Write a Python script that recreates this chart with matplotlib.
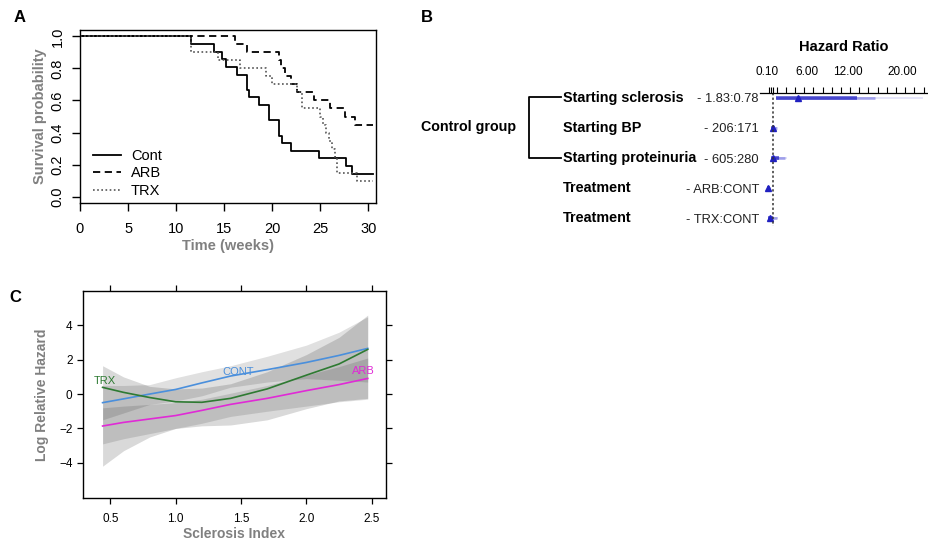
import numpy as np
import matplotlib
matplotlib.use("Agg")
import matplotlib.pyplot as plt
from matplotlib.lines import Line2D
from matplotlib.transforms import blended_transform_factory

plt.rcParams['font.family'] = ['Liberation Sans', 'DejaVu Sans']

# ---- panel A: Kaplan-Meier curves ----
cont_t = [0, 11.6, 13.9, 14.8, 15.2, 16.3, 17.4, 17.6, 18.6, 19.7, 20.7, 21.0, 22.0, 24.9, 27.7, 28.3, 30.5]
cont_s = [1.0, 0.952, 0.905, 0.857, 0.810, 0.762, 0.667, 0.619, 0.571, 0.476, 0.381, 0.333, 0.286, 0.238, 0.190, 0.143, 0.143]
arb_t = [0, 16.1, 17.4, 20.7, 20.9, 21.3, 22.0, 22.6, 24.3, 26.0, 27.6, 28.6, 30.5]
arb_s = [1.0, 0.95, 0.90, 0.85, 0.80, 0.75, 0.70, 0.65, 0.60, 0.55, 0.50, 0.45, 0.45]
trx_t = [0, 11.6, 14.4, 16.7, 19.4, 20.0, 22.6, 23.1, 25.0, 25.3, 25.6, 25.9, 26.2, 26.5, 26.7, 28.8, 30.5]
trx_s = [1.0, 0.90, 0.85, 0.80, 0.75, 0.70, 0.65, 0.55, 0.50, 0.45, 0.40, 0.35, 0.30, 0.25, 0.15, 0.10, 0.10]

# ---- panel B: forest plot ----
row_labels = ["Starting sclerosis", "Starting BP", "Starting proteinuria", "Treatment", "Treatment"]
row_values = ["- 1.83:0.78", "- 206:171", "- 605:280", "- ARB:CONT", "- TRX:CONT"]
hr_est = [4.7, 1.03, 1.0, 0.3, 0.55]
ci_lo = [1.43, 0.75, 0.7, 0.05, 0.2]
ci_hi = [13.3, 1.3, 1.8, 0.5, 1.0]
ci_mid_hi = [16.0, 1.5, 2.75, 0.6, 1.5]
ci_out_hi = [23.0, 1.6, 3.0, 0.7, 1.7]
hr_labels = [0.10, 6.00, 12.00, 20.00]
hr_minor = [0.1, 0.4, 0.7, 1.0, 1.53, 2.88, 4.23, 5.58, 6.93, 8.28, 9.63, 10.98,
            12.33, 13.68, 15.03, 16.38, 17.73, 19.08, 20.43, 21.78, 23.13]

# ---- panel C: log relative hazard vs sclerosis index ----
sx = [0.44, 0.6, 0.8, 1.0, 1.2, 1.42, 1.7, 2.0, 2.25, 2.47]
cont_c = [-0.5, -0.28, 0.0, 0.27, 0.65, 1.05, 1.42, 1.84, 2.25, 2.66]
cont_up = [0.5, 0.5, 0.55, 0.95, 1.3, 1.65, 2.2, 2.85, 3.6, 4.5]
cont_lo = [-1.5, -1.1, -0.6, -0.4, -0.1, 0.4, 0.7, 0.9, 0.8, 0.7]
trx_c = [0.39, 0.1, -0.2, -0.45, -0.48, -0.25, 0.3, 1.1, 1.75, 2.6]
trx_up = [1.65, 1.0, 0.45, 0.3, 0.35, 0.6, 1.3, 2.3, 3.3, 4.6]
trx_lo = [-4.2, -3.3, -2.5, -2.0, -1.85, -1.8, -1.5, -0.85, -0.4, -0.25]
arb_c = [-1.86, -1.65, -1.45, -1.25, -0.95, -0.6, -0.25, 0.2, 0.55, 0.91]
arb_up = [-0.8, -0.7, -0.6, -0.5, -0.3, 0.05, 0.5, 1.1, 1.6, 2.1]
arb_lo = [-2.9, -2.6, -2.3, -2.0, -1.7, -1.3, -1.0, -0.7, -0.45, -0.3]

W, H = 929, 540
fig = plt.figure(figsize=(W / 100, H / 100), dpi=100)


def px_box(l, t, r, b):
    return [l / W, 1 - b / H, (r - l) / W, (b - t) / H]


gray = '#808080'

# panel A
axA = fig.add_axes(px_box(80, 30, 376, 203))
axA.step(cont_t, cont_s, where='post', color='black', lw=1.3, ls='-', label='Cont')
axA.step(arb_t, arb_s, where='post', color='black', lw=1.3, ls=(0, (4, 2.5)), label='ARB')
axA.step(trx_t, trx_s, where='post', color='#555555', lw=1.2, ls=(0, (1, 1.5)), label='TRX')
axA.set_xlim(0, 30.8)
axA.set_ylim(-0.04, 1.04)
axA.set_xticks([0, 5, 10, 15, 20, 25, 30])
axA.set_yticks([0.0, 0.2, 0.4, 0.6, 0.8, 1.0])
axA.set_yticklabels(['0.0', '0.2', '0.4', '0.6', '0.8', '1.0'], rotation=90, va='center')
axA.tick_params(length=6, labelsize=10.5, width=1)
axA.tick_params(axis='x', pad=8)
axA.tick_params(axis='y', pad=5)
axA.set_xlabel('Time (weeks)', color=gray, fontsize=10.5, fontweight='bold', labelpad=2)
axA.set_ylabel('Survival probability', color=gray, fontsize=10.5, fontweight='bold', labelpad=3)
axA.legend(loc='lower left', bbox_to_anchor=(0.0, -0.045), frameon=False, fontsize=10.5,
           handlelength=1.9, labelspacing=0.22, handletextpad=0.7)
for s in axA.spines.values():
    s.set_linewidth(1.0)
fig.text(20 / W, 1 - 17 / H, 'A', fontsize=12, fontweight='bold', ha='center', va='center')

# panel B
axB = fig.add_axes(px_box(760, 93, 929, 232))
rows = np.arange(len(hr_est))
for i in rows:
    axB.plot([ci_lo[i], ci_out_hi[i]], [i, i], color='#6060e0', lw=1.2, alpha=0.2, solid_capstyle='butt')
    axB.plot([ci_lo[i], ci_mid_hi[i]], [i, i], color='#4b4bd8', lw=2.0, alpha=0.45, solid_capstyle='butt')
    axB.plot([ci_lo[i], ci_hi[i]], [i, i], color='#3535c8', lw=2.6, alpha=0.85, solid_capstyle='butt')
axB.plot(hr_est, rows, ls='none', marker='^', ms=5, color='#2020c0')
axB.plot([1, 1], [-0.16, 4.25], ls=(0, (1.5, 1.5)), color='#333333', lw=1.1)
axB.set_xlim(-0.93, 23.93)
axB.set_ylim(4.45, -0.156)
for k in ['left', 'right', 'bottom']:
    axB.spines[k].set_visible(False)
axB.spines['top'].set_linewidth(0.9)
axB.set_yticks([])
axB.xaxis.tick_top()
axB.set_xticks(hr_labels)
axB.set_xticklabels(['%.2f' % v for v in hr_labels])
axB.set_xticks(hr_minor, minor=True)
axB.tick_params(axis='x', which='major', length=0, pad=10.5, labelsize=8.5)
axB.tick_params(axis='x', which='minor', length=4, width=0.8, direction='out')
fig.text(844 / W, 1 - 47 / H, 'Hazard Ratio', fontsize=10.5, fontweight='bold', ha='center', va='center')
fig.text(427 / W, 1 - 17 / H, 'B', fontsize=12, fontweight='bold', ha='center', va='center')

tr = blended_transform_factory(fig.transFigure, axB.transData)
for i in rows:
    fig.text(563 / W, i, row_labels[i], transform=tr, fontsize=10.4, fontweight='bold',
             ha='left', va='center')
    fig.text(759 / W, i + 0.05, row_values[i], transform=tr, fontsize=9.3, ha='right', va='center',
             color='#222222')
fig.text(421 / W, 1 - 127 / H, 'Control group', fontsize=10.3, fontweight='bold', ha='left', va='center')
bx0, bx1 = 529 / W, 561 / W
fig.add_artist(Line2D([bx1, bx0, bx0, bx1], [-0.03, -0.03, 2.0, 2.0], transform=tr, color='black', lw=1.3))

# panel C
axC = fig.add_axes(px_box(83, 291, 386, 498))
axC.fill_between(sx, trx_lo, trx_up, color='black', alpha=0.15, lw=0)
axC.fill_between(sx, cont_lo, cont_up, color='black', alpha=0.12, lw=0)
axC.fill_between(sx, arb_lo, arb_up, color='black', alpha=0.12, lw=0)
axC.plot(sx, cont_c, color='#4a8fdc', lw=1.2)
axC.plot(sx, trx_c, color='#2e7a32', lw=1.2)
axC.plot(sx, arb_c, color='#e02ad6', lw=1.2)
axC.text(0.456, 0.77, 'TRX', color='#2e7a32', fontsize=8, ha='center', va='center')
axC.text(1.48, 1.3, 'CONT', color='#4a8fdc', fontsize=8, ha='center', va='center')
axC.text(2.44, 1.34, 'ARB', color='#e02ad6', fontsize=8, ha='center', va='center')
axC.set_xlim(0.29, 2.61)
axC.set_ylim(-6.05, 6.0)
axC.set_xticks([0.5, 1.0, 1.5, 2.0, 2.5])
axC.set_yticks([-4, -2, 0, 2, 4])
axC.tick_params(length=4, labelsize=8.5, top=True, right=True, width=0.9)
axC.tick_params(axis='x', pad=7)
axC.set_xlabel('Sclerosis Index', color=gray, fontsize=10, fontweight='bold', labelpad=1)
axC.set_ylabel('Log Relative Hazard', color=gray, fontsize=10, fontweight='bold', labelpad=7)
for s in axC.spines.values():
    s.set_linewidth(1.0)
fig.text(15 / W, 1 - 297 / H, 'C', fontsize=12, fontweight='bold', ha='center', va='center')

fig.savefig('out.png', dpi=100)
